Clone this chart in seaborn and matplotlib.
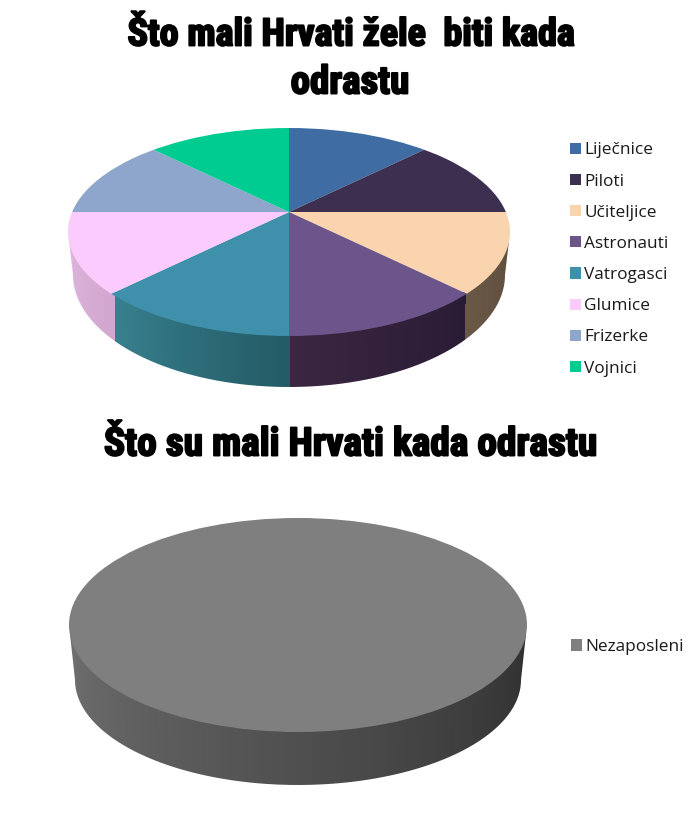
import numpy as np
import matplotlib
matplotlib.use("Agg")
import matplotlib.pyplot as plt
import matplotlib.colors as mcolors
import matplotlib.patheffects as pe
from matplotlib.patches import Ellipse
import seaborn as sns

# Top chart data
wish_labels = ["Liječnice", "Piloti", "Učiteljice", "Astronauti", "Vatrogasci", "Glumice", "Frizerke", "Vojnici"]
wish_values = [12.5, 12.5, 12.5, 12.5, 12.5, 12.5, 12.5, 12.5]
wish_colors = ["#3F6CA3", "#3D2F4F", "#FAD4AE", "#6C558A", "#3F90AB", "#FCCBFE", "#8EA6CB", "#00CC92"]
wish_wall_left = ["#2A4870", "#2A2036", "#6A5847", "#3A2640", "#38808F", "#DDB6DC", "#64748E", "#008F66"]
wish_wall_right = ["#2A4870", "#2A2036", "#5C4C3C", "#2A1B35", "#235A65", "#D2A6CE", "#64748E", "#008F66"]

# Bottom chart data
real_labels = ["Nezaposleni"]
real_values = [100]
real_colors = ["#7F7F7F"]
real_wall_left = ["#707070"]
real_wall_right = ["#2E2E2E"]

sns.set_theme(style="white")
plt.rcParams["font.family"] = ["Open Sans", "DejaVu Sans"]

W, H = 700, 817
SQUASH = 0.46
fig = plt.figure(figsize=(W / 100, H / 100), dpi=100, facecolor="white")


def draw_pie(values, labels, colors, wall_left, wall_right, apex, top, bottom, legend_y, legend_x, spacing):
    ax = fig.add_axes([0, 0, 1, 1])
    ax_x, ax_y = apex
    wedges, _ = ax.pie(values, colors=sns.color_palette(colors), startangle=90, counterclock=False,
                       center=(0, 0), radius=900, wedgeprops={"linewidth": 0})
    ax.set_aspect("auto")
    ax.set_xlim(-ax_x, W - ax_x)
    ax.set_ylim((ax_y - H) / SQUASH, ax_y / SQUASH)
    ax.axis("off")

    # legend first, its handles copy the clip settings of the wedges
    fig.legend(wedges, labels, loc="center left", frameon=False,
               bbox_to_anchor=(legend_x / W, 1 - legend_y / H), fontsize=12.4,
               handlelength=0.62, handleheight=0.62, handletextpad=0.2,
               labelspacing=spacing, labelcolor="#1A1A1A", borderpad=0, borderaxespad=0)

    # top face is the squashed pie cut by an off-centre ellipse
    cx, cy, rx, ry = top
    clip = Ellipse((cx - ax_x, (ax_y - cy) / SQUASH), 2 * rx, 2 * ry / SQUASH,
                   facecolor="none", edgecolor="none", transform=ax.transData)
    ax.add_patch(clip)
    for w in wedges:
        w.set_clip_on(True)
        w.set_clip_path(clip)
        w.set_zorder(3)

    # side wall, thin strips so the shading runs left to right
    bx, by, brx, bry = bottom
    t = np.linspace(0, np.pi, 241)
    top_x = cx + (rx - 2) * np.cos(t)
    top_y = cy + (ry - 2) * np.sin(t)
    bot_x = bx + (brx + 2) * np.cos(t)
    bot_y = by + (bry + 2) * np.sin(t)
    mid_t = (t[:-1] + t[1:]) / 2
    mid_x = cx + rx * np.cos(mid_t)
    mid_y = cy + ry * np.sin(mid_t)
    angle = np.degrees(np.arctan2(mid_x - ax_x, (ax_y - mid_y) / SQUASH)) % 360
    edges = np.cumsum(values) / np.sum(values) * 360
    slice_idx = np.clip(np.searchsorted(edges, angle), 0, len(values) - 1)
    for i in np.unique(slice_idx):
        strips = np.where(slice_idx == i)[0]
        left = np.array(mcolors.to_rgb(wall_left[i]))
        right = np.array(mcolors.to_rgb(wall_right[i]))
        for n, s in enumerate(strips):
            f = n / max(len(strips) - 1, 1)
            c = right + (left - right) * f
            xs = [top_x[s], top_x[s + 1], bot_x[s + 1], bot_x[s]]
            ys = [top_y[s], top_y[s + 1], bot_y[s + 1], bot_y[s]]
            ax.fill(np.array(xs) - ax_x, (ax_y - np.array(ys)) / SQUASH,
                    color=c, lw=1, antialiased=False, zorder=2)

    # white band smooths the rough outer edge of the strips
    edge_x = np.r_[cx + rx + 2.5, bx + (brx + 2.5) * np.cos(t), cx - rx - 2.5]
    edge_y = np.r_[cy, by + (bry + 2.5) * np.sin(t), cy]
    ax.plot(edge_x - ax_x, (ax_y - edge_y) / SQUASH, color="white", lw=3.6,
            solid_capstyle="butt", zorder=2.5)


draw_pie(wish_values, wish_labels, wish_colors, wish_wall_left, wish_wall_right,
         apex=(289, 212), top=(289, 232, 221, 104), bottom=(289, 275, 216, 112),
         legend_y=259.5, legend_x=570, spacing=0.88)
draw_pie(real_values, real_labels, real_colors, real_wall_left, real_wall_right,
         apex=(298, 610), top=(298, 625, 229, 107), bottom=(298, 680, 223, 105),
         legend_y=647, legend_x=571, spacing=0.88)

# Heavy condensed titles
title_font = {"family": ["Roboto Condensed", "Liberation Sans", "DejaVu Sans"], "weight": "bold", "color": "black",
              "ha": "center", "va": "center"}
heavy = [pe.withStroke(linewidth=1.4, foreground="black")]
fig.text(351 / W, 1 - 35 / H, "Što mali Hrvati žele  biti kada", size=27.4, path_effects=heavy, **title_font)
fig.text(350 / W, 1 - 83 / H, "odrastu", size=28, path_effects=heavy, **title_font)
fig.text(350 / W, 1 - 445 / H, "Što su mali Hrvati kada odrastu", size=28.3, path_effects=heavy, **title_font)

fig.savefig("out.png", dpi=100, facecolor="white")
